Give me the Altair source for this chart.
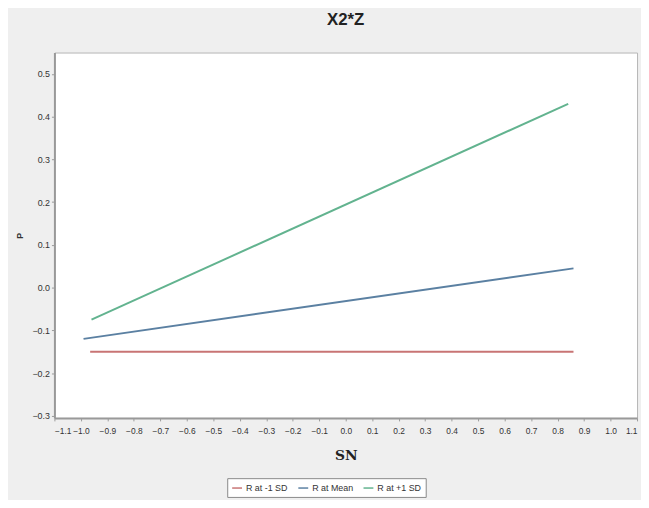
import altair as alt
import pandas as pd

series = ["R at -1 SD", "R at Mean", "R at +1 SD"]
colors = ["#c87474", "#5b80a2", "#62b38f"]
x_start = [-0.965, -0.99, -0.96]
x_end = [0.86, 0.86, 0.84]
y_start = [-0.15, -0.12, -0.075]
y_end = [-0.15, 0.045, 0.43]
x_ticks = [round(-1.1 + 0.1 * i, 1) for i in range(23)]
y_ticks = [round(-0.3 + 0.1 * i, 1) for i in range(9)]

rows = []
for s, xs, xe, ys, ye in zip(series, x_start, x_end, y_start, y_end):
    rows.append({"series": s, "x": xs, "y": ys})
    rows.append({"series": s, "x": xe, "y": ye})
df = pd.DataFrame(rows)

font = "Liberation Sans"

chart = alt.Chart(df).mark_line(strokeWidth=2).encode(
    x=alt.X("x:Q", scale=alt.Scale(domain=[-1.1, 1.1], nice=False, zero=False),
            axis=alt.Axis(values=x_ticks, format=".1f", title="SN", grid=False,
                          labelFontSize=8.5, labelColor="#333333", titleFontSize=14,
                          titleFont="DejaVu Serif", titleColor="#222222",
                          titlePadding=14, domainColor="#999999", domainWidth=2,
                          tickColor="#999999", tickSize=3, labelFont=font,
                          labelPadding=6)),
    y=alt.Y("y:Q", scale=alt.Scale(domain=[-0.305, 0.55], nice=False, zero=False),
            axis=alt.Axis(values=y_ticks, format=".1f", title="P", grid=False,
                          labelFontSize=9, labelColor="#333333", titleFontSize=9,
                          titleColor="#333333", titlePadding=8,
                          domainColor="#999999", domainWidth=2,
                          tickColor="#999999", tickSize=3, labelFont=font,
                          titleFont=font)),
    color=alt.Color("series:N", sort=series,
                    scale=alt.Scale(domain=series, range=colors),
                    legend=alt.Legend(title=None, orient="none", direction="horizontal",
                                      legendX=175, legendY=431, fillColor="white",
                                      strokeColor="#888888", padding=4,
                                      symbolType="stroke", symbolSize=100,
                                      symbolStrokeWidth=1.5, labelFontSize=9,
                                      labelFont=font, labelColor="#333333",
                                      columnPadding=7, symbolOffset=0, labelOffset=3)),
).properties(
    width=590,
    height=370,
    title=alt.TitleParams("X2*Z", fontSize=17, font=font, fontWeight="bold",
                          color="#222222", offset=24, anchor="middle"),
    background="#efefef",
    padding={"left": 47, "top": 42, "right": 4, "bottom": 80},
    autosize=alt.AutoSizeParams(type="none"),
).configure_view(
    fill="white", stroke="#b5b5b5", strokeWidth=1
)

chart.save("out.html", embed_options={"renderer": "svg", "actions": False})
